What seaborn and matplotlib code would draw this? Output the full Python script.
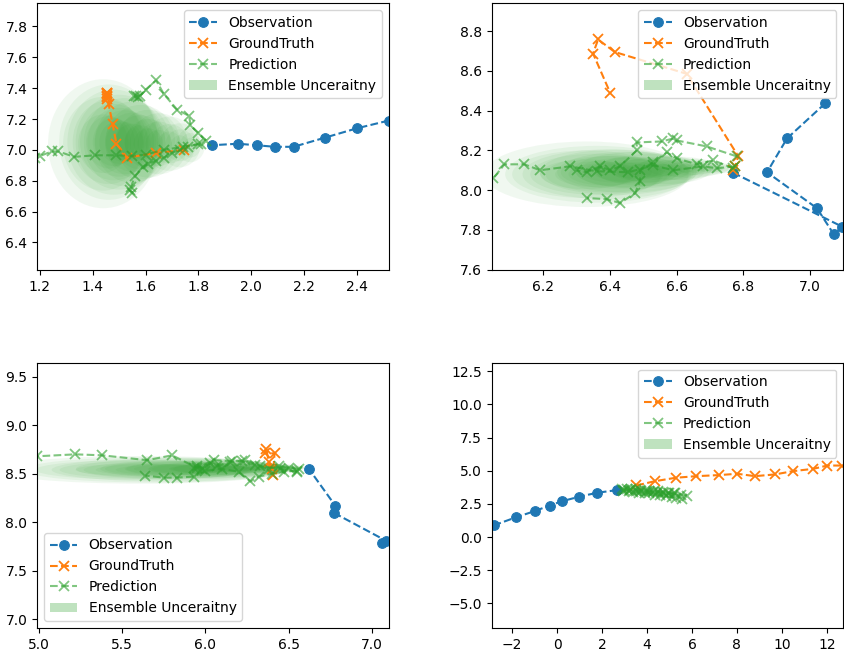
import matplotlib
matplotlib.use("Agg")
import matplotlib.pyplot as plt
from matplotlib.patches import Ellipse
import seaborn as sns

# ---- panel 1 (top left) ----
obs1_x = [2.52, 2.40, 2.28, 2.16, 2.09, 2.02, 1.95, 1.85]
obs1_y = [7.19, 7.14, 7.08, 7.02, 7.02, 7.03, 7.04, 7.03]
gt1_x = [1.745, 1.64, 1.53, 1.49, 1.475, 1.46, 1.455, 1.455, 1.455, 1.455, 1.455, 1.455]
gt1_y = [7.00, 6.98, 6.95, 7.04, 7.17, 7.30, 7.33, 7.34, 7.35, 7.36, 7.37, 7.37]
pred1_x = [
    [1.81, 1.74, 1.67, 1.60, 1.55, 1.49, 1.41, 1.33, 1.27, 1.245, 1.20, 1.18],
    [1.83, 1.80, 1.77, 1.765, 1.72, 1.67, 1.64, 1.60, 1.58, 1.565, 1.57, 1.555],
    [1.80, 1.76, 1.73, 1.70, 1.67, 1.64, 1.61, 1.59, 1.56, 1.545, 1.55, 1.54],
]
pred1_y = [
    [7.04, 7.02, 7.00, 6.97, 6.96, 6.965, 6.965, 6.955, 6.99, 6.99, 6.96, 6.95],
    [7.06, 7.11, 7.16, 7.22, 7.26, 7.36, 7.45, 7.39, 7.35, 7.35, 7.34, 7.35],
    [7.04, 7.02, 7.00, 6.98, 6.95, 6.93, 6.91, 6.89, 6.83, 6.76, 6.72, 6.74],
]
unc1_cx = [1.77, 1.73, 1.69, 1.65, 1.61, 1.58, 1.55, 1.52, 1.50, 1.48, 1.46, 1.44]
unc1_cy = [7.03, 7.03, 7.04, 7.04, 7.04, 7.05, 7.05, 7.05, 7.05, 7.05, 7.05, 7.04]
unc1_sx = [0.025, 0.035, 0.045, 0.05, 0.055, 0.06, 0.065, 0.07, 0.075, 0.08, 0.085, 0.095]
unc1_sy = [0.05, 0.065, 0.08, 0.09, 0.10, 0.11, 0.12, 0.13, 0.14, 0.155, 0.17, 0.19]

# ---- panel 2 (top right) ----
obs2_x = [7.046, 6.931, 6.871, 7.021, 7.071, 7.097, 6.770]
obs2_y = [8.437, 8.26, 8.09, 7.909, 7.779, 7.816, 8.087]
gt2_x = [6.77, 6.775, 6.785, 6.63, 6.414, 6.364, 6.349, 6.401]
gt2_y = [8.10, 8.12, 8.17, 8.585, 8.695, 8.758, 8.687, 8.487]
pred2_x = [
    [6.775, 6.72, 6.68, 6.59, 6.53, 6.455, 6.36, 6.28, 6.19, 6.143, 6.083, 6.05],
    [6.78, 6.69, 6.60, 6.59, 6.555, 6.48, 6.48, 6.43, 6.40, 6.37, 6.33, 6.30],
    [6.77, 6.71, 6.66, 6.60, 6.57, 6.53, 6.49, 6.49, 6.475, 6.43, 6.39, 6.33],
]
pred2_y = [
    [8.12, 8.11, 8.12, 8.10, 8.125, 8.09, 8.095, 8.12, 8.10, 8.13, 8.13, 8.06],
    [8.17, 8.22, 8.25, 8.26, 8.245, 8.24, 8.20, 8.12, 8.10, 8.12, 8.09, 8.10],
    [8.11, 8.15, 8.13, 8.16, 8.19, 8.14, 8.10, 8.045, 7.985, 7.935, 7.955, 7.96],
]
unc2_cx = [6.72, 6.68, 6.64, 6.60, 6.56, 6.52, 6.48, 6.45, 6.42, 6.39, 6.36, 6.33]
unc2_cy = [8.11, 8.11, 8.11, 8.11, 8.10, 8.10, 8.10, 8.09, 8.09, 8.08, 8.08, 8.08]
unc2_sx = [0.025, 0.035, 0.045, 0.055, 0.065, 0.075, 0.085, 0.095, 0.105, 0.115, 0.125, 0.14]
unc2_sy = [0.012, 0.017, 0.022, 0.027, 0.032, 0.037, 0.042, 0.047, 0.052, 0.057, 0.065, 0.075]

# ---- panel 3 (bottom left) ----
obs3_x = [7.062, 7.082, 6.769, 6.779, 6.623]
obs3_y = [7.783, 7.81, 8.098, 8.171, 8.545]
gt3_x = [6.40, 6.38, 6.365, 6.355, 6.415, 6.405]
gt3_y = [8.55, 8.62, 8.76, 8.71, 8.71, 8.49]
pred3_x = [
    [6.55, 6.45, 6.33, 6.24, 6.16, 6.05, 5.95, 5.80, 5.65, 5.38, 5.22, 4.99],
    [6.55, 6.47, 6.40, 6.32, 6.27, 6.20, 6.10, 6.00, 5.93, 5.83, 5.75, 5.64],
    [6.56, 6.50, 6.44, 6.38, 6.30, 6.22, 6.15, 6.07, 6.03, 5.98, 5.95, 5.93],
]
pred3_y = [
    [8.52, 8.55, 8.58, 8.64, 8.63, 8.64, 8.56, 8.69, 8.64, 8.69, 8.70, 8.68],
    [8.53, 8.52, 8.50, 8.47, 8.42, 8.52, 8.55, 8.53, 8.47, 8.46, 8.46, 8.48],
    [8.55, 8.56, 8.58, 8.55, 8.59, 8.63, 8.62, 8.58, 8.61, 8.55, 8.58, 8.56],
]
unc3_cx = [6.50, 6.42, 6.34, 6.26, 6.18, 6.10, 6.02, 5.94, 5.86, 5.78, 5.70, 5.62]
unc3_cy = [8.56, 8.56, 8.56, 8.56, 8.55, 8.55, 8.55, 8.55, 8.55, 8.54, 8.54, 8.54]
unc3_sx = [0.05, 0.08, 0.11, 0.14, 0.17, 0.20, 0.23, 0.26, 0.29, 0.32, 0.36, 0.40]
unc3_sy = [0.012, 0.016, 0.02, 0.025, 0.03, 0.035, 0.04, 0.045, 0.05, 0.055, 0.06, 0.065]

# ---- panel 4 (bottom right) ----
obs4_x = [-2.82, -1.81, -0.99, -0.33, 0.24, 0.98, 1.78, 2.67]
obs4_y = [0.88, 1.50, 1.96, 2.38, 2.71, 3.04, 3.34, 3.54]
gt4_x = [3.53, 4.35, 5.28, 6.20, 7.21, 8.01, 8.80, 9.69, 10.50, 11.39, 12.02, 12.66]
gt4_y = [3.89, 4.21, 4.47, 4.59, 4.67, 4.77, 4.59, 4.72, 4.97, 5.14, 5.39, 5.39]
pred4_x = [
    [3.0, 3.25, 3.5, 3.75, 4.0, 4.25, 4.5, 4.75, 5.0, 5.25, 5.5, 5.8],
    [2.95, 3.2, 3.4, 3.65, 3.9, 4.1, 4.35, 4.6, 4.85, 5.1, 5.3, 5.55],
    [2.9, 3.1, 3.3, 3.5, 3.7, 3.9, 4.1, 4.3, 4.5, 4.7, 4.95, 5.2],
]
pred4_y = [
    [3.55, 3.55, 3.5, 3.5, 3.45, 3.4, 3.4, 3.35, 3.3, 3.3, 3.2, 3.1],
    [3.5, 3.45, 3.4, 3.35, 3.3, 3.3, 3.2, 3.15, 3.1, 3.0, 2.95, 2.9],
    [3.6, 3.65, 3.6, 3.6, 3.55, 3.5, 3.5, 3.45, 3.45, 3.4, 3.35, 3.3],
]
unc4_cx = [2.95, 3.15, 3.35, 3.55, 3.75, 3.95, 4.15, 4.35, 4.55, 4.75, 4.95, 5.15]
unc4_cy = [3.55, 3.53, 3.5, 3.48, 3.45, 3.42, 3.4, 3.37, 3.35, 3.3, 3.25, 3.2]
unc4_sx = [0.03, 0.05, 0.07, 0.09, 0.11, 0.13, 0.15, 0.17, 0.19, 0.21, 0.23, 0.25]
unc4_sy = [0.02, 0.03, 0.04, 0.05, 0.06, 0.07, 0.08, 0.09, 0.10, 0.11, 0.12, 0.13]

panels = [
    (obs1_x, obs1_y, gt1_x, gt1_y, pred1_x, pred1_y, unc1_cx, unc1_cy, unc1_sx, unc1_sy,
     (1.19, 2.52), (6.22, 7.95), "upper right"),
    (obs2_x, obs2_y, gt2_x, gt2_y, pred2_x, pred2_y, unc2_cx, unc2_cy, unc2_sx, unc2_sy,
     (6.045, 7.10), (7.597, 8.94), "upper right"),
    (obs3_x, obs3_y, gt3_x, gt3_y, pred3_x, pred3_y, unc3_cx, unc3_cy, unc3_sx, unc3_sy,
     (4.99, 7.10), (6.91, 9.645), "lower left"),
    (obs4_x, obs4_y, gt4_x, gt4_y, pred4_x, pred4_y, unc4_cx, unc4_cy, unc4_sx, unc4_sy,
     (-2.9, 12.73), (-6.83, 13.13), "upper right"),
]

# axes boxes in figure fractions (left, bottom, width, height)
boxes = [
    (0.044, 0.588, 0.416, 0.407),
    (0.582, 0.588, 0.416, 0.407),
    (0.044, 0.043, 0.416, 0.404),
    (0.582, 0.043, 0.416, 0.404),
]

levels = [1.0, 1.6, 2.2]

fig = plt.figure(figsize=(8.45, 6.56), dpi=100)

for (ox, oy, gx, gy, px, py, cx, cy, sx, sy, xlim, ylim, loc), box in zip(panels, boxes):
    ax = fig.add_axes(box)

    # ensemble uncertainty as stacked translucent ellipses
    first = True
    for i in range(len(cx)):
        for k in levels:
            e = Ellipse((cx[i], cy[i]), 2 * k * sx[i], 2 * k * sy[i],
                        facecolor="C2", edgecolor="none", alpha=0.065,
                        label="Ensemble Unceraitny" if first else None)
            first = False
            ax.add_patch(e)

    sns.lineplot(x=ox, y=oy, sort=False, estimator=None, ax=ax, color="C0",
                 linestyle="--", marker="o", markersize=7,
                 markeredgecolor="C0", markerfacecolor="C0",
                 label="Observation")
    sns.lineplot(x=gx, y=gy, sort=False, estimator=None, ax=ax, color="C1",
                 linestyle="--", marker="x", markersize=7,
                 markeredgecolor="C1", markeredgewidth=1.3, label="GroundTruth")
    for j in range(len(px)):
        sns.lineplot(x=px[j], y=py[j], sort=False, estimator=None, ax=ax,
                     color="C2", linestyle="--", marker="x", markersize=7,
                     markeredgecolor="C2", markeredgewidth=1.3, alpha=0.6,
                     label="Prediction" if j == 0 else None)

    ax.set_xlim(*xlim)
    ax.set_ylim(*ylim)
    h, l = ax.get_legend_handles_labels()
    order = [l.index(n) for n in ["Observation", "GroundTruth", "Prediction", "Ensemble Unceraitny"]]
    leg = ax.legend([h[o] for o in order], [l[o] for o in order], loc=loc)
    leg.legend_handles[3].set_alpha(0.3)

fig.savefig("out.png", dpi=100)
